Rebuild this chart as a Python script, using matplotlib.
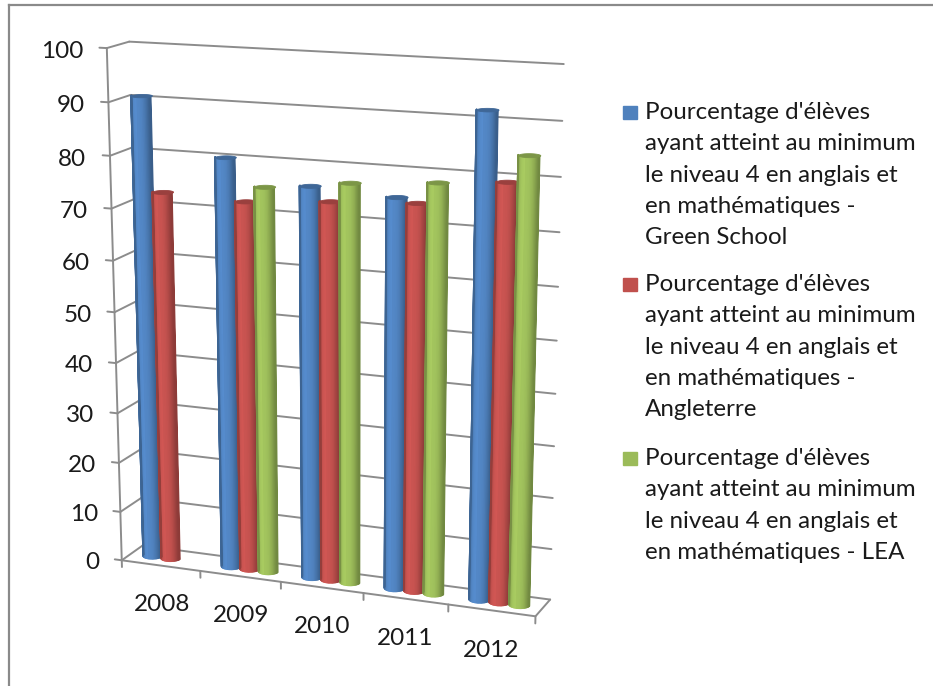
import numpy as np
import matplotlib
matplotlib.use('Agg')
import matplotlib.pyplot as plt
from matplotlib.lines import Line2D
from matplotlib.patches import Rectangle
from mpl_toolkits.mplot3d.art3d import Poly3DCollection

plt.rcParams['font.family'] = ['Lato', 'DejaVu Sans']

W, H = 933, 686

years = ['2008', '2009', '2010', '2011', '2012']
green_school = [90.8, 80.3, 76.1, 75.2, 92]
angleterre = [72.9, 72.3, 73.5, 74.4, 79.4]
lea = [np.nan, 75.3, 77.2, 78.4, 84.4]
ticks = list(range(0, 101, 10))

series = [green_school, angleterre, lea]
colors = ['#4f81bd', '#c0504d', '#9bbb59']
legend_labels = [
    "Pourcentage d'élèves\nayant atteint au minimum\nle niveau 4 en anglais et\nen mathématiques -\nGreen School",
    "Pourcentage d'élèves\nayant atteint au minimum\nle niveau 4 en anglais et\nen mathématiques -\nAngleterre",
    "Pourcentage d'élèves\nayant atteint au minimum\nle niveau 4 en anglais et\nen mathématiques - LEA",
]
legend_tops = [106, 278, 452]

# box corners on screen: category, depth, value -> pixel x, pixel y
camera_points = np.array([
    [0, 0, 100, 107, 49], [0, 1, 100, 129, 41], [5, 1, 100, 564, 64],
    [0, 0, 0, 122, 561], [0, 1, 0, 143, 545], [5, 1, 0, 550, 600],
    [5, 0, 0, 536, 616], [1, 0, 0, 200, 571], [2, 0, 0, 280, 582],
    [3, 0, 0, 364, 593], [4, 0, 0, 448, 604], [5, 1, 90, 562, 121],
    [5, 1, 80, 561, 177], [0, 0, 90, 108.5, 102], [0, 1, 90, 130.5, 95],
    [0, 0, 80, 110, 155], [0, 1, 80, 132, 148],
], dtype=float)


def fit_camera(pts):
    # direct linear transform, world and pixels scaled to about 1
    world = np.diag([1 / 5, 1, 1 / 100, 1])
    pix = np.diag([1 / 500, 1 / 500, 1])
    rows = []
    for x, y, z, u, v in pts:
        X = world @ [x, y, z, 1]
        u, v = u / 500, (H - v) / 500
        rows.append(np.r_[X, 0, 0, 0, 0, -u * X])
        rows.append(np.r_[0, 0, 0, 0, X, -v * X])
    P = np.linalg.svd(np.array(rows))[2][-1].reshape(3, 4)
    return np.linalg.inv(pix) @ P @ world


camera = fit_camera(camera_points)

fig = plt.figure(figsize=(W / 100, H / 100), dpi=100)
ax = fig.add_axes([0, 0, 1, 1], projection='3d', computed_zorder=False)
ax.set_axis_off()
ax.apply_aspect = lambda position=None: None


def get_proj():
    to_data = ax.transData.get_affine().inverted().get_matrix()
    P = to_data @ camera
    return np.array([P[0], P[1], [0, 1, 0, 0], P[2]])


ax.get_proj = get_proj


def label(x, y, z, s, ha, dy=0):
    # text sits on the figure at the projected spot of its tick
    p = camera @ [x, y, z, 1]
    fig.text(p[0] / p[2] / W, (p[1] / p[2] + dy) / H, s, ha=ha, va='center_baseline',
             fontsize=17.5, color='#1a1a1a')


line = dict(color='#8c8c8c', lw=1.4, zorder=1, solid_capstyle='round')

# walls and value ticks
for v in ticks:
    ax.plot([0, 5], [1, 1], [v, v], **line)
    ax.plot([0, 0], [0, 1], [v, v], **line)
    ax.plot([-0.09, 0], [0, 0], [v, v], **line)
    label(-0.29, 0, v, str(v), 'right', dy=-3)
ax.plot([0, 0], [0, 0], [0, 100], **line)

# floor
ax.plot([0, 5, 5], [0, 0, 1], [0, 0, 0], **line)
for i in range(6):
    ax.plot([i, i], [0, 0], [0, -1.4], **line)
for i, year in enumerate(years):
    label(i + 0.5, 0, -7.2, year, 'center', dy=-2)

# cylinders
bar_w = 0.232
rx = bar_w / 2
ry = 0.21
theta = np.linspace(0, np.pi, 25)
z = 10
for i in range(len(years)):
    for k, values in enumerate(series):
        v = values[i]
        if np.isnan(v):
            continue
        cx = i + 0.5 + (k - 1) * bar_w
        cy = 0.5
        X = np.tile(cx + rx * np.cos(theta), (2, 1))
        Y = np.tile(cy - ry * np.sin(theta), (2, 1))
        Z = np.array([np.zeros(25), np.full(25, v)])
        t = np.cos((theta[:-1] + theta[1:]) / 2)
        shade = 1.09 - 0.32 * np.abs(t) ** 3 - 0.04 * (t > 0)
        base = np.array(matplotlib.colors.to_rgb(colors[k]))
        face = np.clip(shade[:, None] * base, 0, 1)
        face = np.c_[face, np.ones(24)][None, :, :]
        ax.plot_surface(X, Y, Z, facecolors=face, rstride=1, cstride=1,
                        shade=False, linewidth=0.9, zorder=z)
        a = np.linspace(0, 2 * np.pi, 33)
        cap = np.c_[cx + rx * np.cos(a), cy + ry * np.sin(a), np.full(33, v)]
        ax.add_collection3d(Poly3DCollection([cap], facecolors=base * 0.8,
                                             edgecolors=base * 0.8, linewidths=0.6,
                                             zorder=z + 1), autolim=False)
        z += 2

ax.set_xlim(0, 5)
ax.set_ylim(0, 1)
ax.set_zlim(0, 100)

# legend
for c, text, top in zip(colors, legend_labels, legend_tops):
    fig.add_artist(Rectangle((623 / W, 1 - (top + 13) / H), 14 / W, 13 / H, color=c,
                             transform=fig.transFigure))
    fig.text(645 / W, 1 - (top - 4) / H, text, ha='left', va='top', fontsize=17.4,
             color='#1a1a1a', linespacing=1.61)

# outer frame
frame = dict(color='#8a8a8a', lw=1.6, transform=fig.transFigure)
fig.add_artist(Line2D([9 / W, 1], [1 - 5 / H, 1 - 5 / H], **frame))
fig.add_artist(Line2D([9 / W, 9 / W], [1 - 5 / H, 0], **frame))

fig.savefig('out.png', dpi=100)
